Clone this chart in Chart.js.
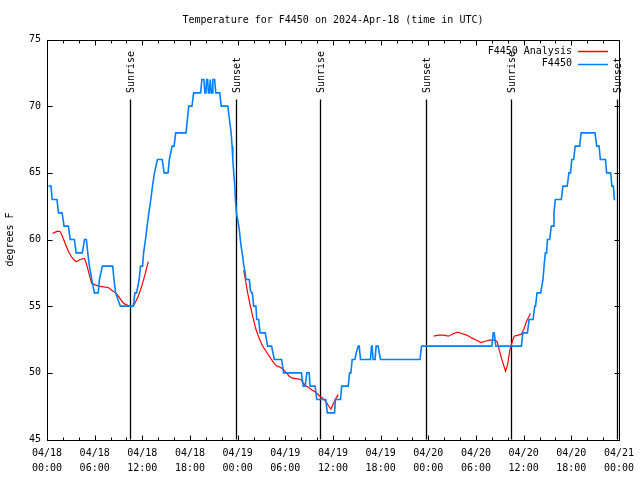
<!DOCTYPE html>
<html>
<head>
<meta charset="utf-8">
<script src="https://cdn.jsdelivr.net/npm/chart.js@4.4.1/dist/chart.umd.min.js"></script>
<style>
  html, body { margin: 0; padding: 0; background: #fff; }
  canvas { display: block; }
</style>
</head>
<body>
<canvas id="c" width="640" height="480"></canvas>
<script>
// ---------------- data ----------------
const chartTitle = 'Temperature for F4450 on 2024-Apr-18 (time in UTC)';
const yAxisTitle = 'degrees F';
const seriesNames = ['F4450 Analysis', 'F4450'];

// x tick labels (every 6 hours from 04/18 00:00 UTC)
const xTickDates = ['04/18','04/18','04/18','04/18','04/19','04/19','04/19','04/19','04/20','04/20','04/20','04/20','04/21'];
const xTickTimes = ['00:00','06:00','12:00','18:00','00:00','06:00','12:00','18:00','00:00','06:00','12:00','18:00','00:00'];
const yTicks = [45, 50, 55, 60, 65, 70, 75];

// sunrise / sunset markers (hours after 04/18 00:00 UTC)
const eventLabels = ['Sunrise','Sunset','Sunrise','Sunset','Sunrise','Sunset'];
const eventHours  = [10.5, 23.76, 34.42, 47.7, 58.47, 71.75];

// observed temperature F4450 (hours, degF)
const obsHours = [0.2,0.5,0.65,1.25,1.45,1.9,2.15,2.7,2.92,3.45,3.67,4.45,4.72,4.96,5.13,5.34,5.63,5.97,6.45,6.6,6.97,8.27,8.43,8.64,9.23,10.86,11.07,11.28,11.6,11.78,12.03,12.16,12.4,12.6,12.82,13.07,13.28,13.53,13.9,14.5,14.74,15.24,15.4,15.75,16.0,16.2,17.5,17.67,17.85,18.25,18.46,19.34,19.5,19.75,19.88,20.0,20.1,20.22,20.32,20.45,20.55,20.62,20.7,20.78,20.88,21.1,21.25,21.75,21.93,22.76,22.97,23.18,23.3,23.39,23.51,23.64,23.72,23.85,24.01,24.14,24.26,24.39,24.51,24.64,24.76,24.89,25.06,25.47,25.6,25.77,25.85,26.02,26.3,26.4,26.64,26.82,27.48,27.77,28.27,28.61,29.53,29.78,32.03,32.25,32.5,32.7,33.0,33.12,33.75,33.96,35.09,35.29,36.2,36.3,36.95,37.1,37.92,38.09,38.25,38.42,38.76,38.93,39.17,39.3,39.47,40.72,40.85,40.93,41.05,41.3,41.43,41.68,41.98,46.95,47.15,56.0,56.18,56.3,56.5,59.72,59.9,60.48,60.69,61.19,61.4,61.5,61.69,62.15,62.44,62.57,62.74,62.9,62.99,63.28,63.48,63.7,63.82,63.99,64.74,64.95,65.49,65.7,65.9,66.07,66.3,66.49,67.05,67.24,68.99,69.2,69.5,69.66,70.3,70.45,70.95,71.12,71.3,71.42,71.54];
const obsTemps = [64,64,63,63,62,62,61,61,60,60,59,59,60,60,59,58,57,56,56,57,58,58,57,56,55,55,56,56,57,58,58,59,60,61,62,63,64,65,66,66,65,65,66,67,67,68,68,69,70,70,71,71,72,72,71,71,72,72,71,71,72,72,71,71,72,72,71,71,70,70,69,68,67,66,65,64,63,62,61.45,61,60.45,59.7,59.2,58.7,58.1,57.7,57,57,56.2,56,56,55,55,54,54,53,53,52,52,51,51,50,50,49,49,50,50,49,49,48,48,47,47,48,48,49,49,50,50,51,51,51.5,52,52,51,51,52,52,51,51,52,52,51,51,52,52,53,53,52,52,53,53,54,54,55,55,56,56,57,58,59,59,60,60,61,61,62,63,63,64,64,65,65,66,66,67,67,68,68,67,67,66,66,65,65,64,64,63,63];

// analysis F4450 Analysis (hours, degF); null separates segments
const anaHours = [0.7,1.04,1.37,1.67,1.96,2.29,2.71,3.13,3.67,4.17,4.72,5.01,5.34,5.63,5.93,6.47,7.09,7.72,8.14,8.64,9.06,9.48,9.81,10.23,10.56,10.86,11.15,11.48,11.9,12.32,12.74,
  18.0,
  24.76,24.97,25.26,25.56,25.89,26.31,26.73,27.15,27.57,27.98,28.4,28.82,29.24,29.65,30.07,30.49,30.9,31.53,31.96,32.24,32.58,33.0,33.41,33.83,34.25,34.66,35.09,35.41,35.75,36.0,36.34,36.67,
  42.0,
  48.66,49.29,49.91,50.54,51.17,51.71,52.21,52.84,53.46,54.09,54.64,55.14,55.77,56.39,56.68,56.93,57.22,57.52,57.72,57.97,58.27,58.56,58.81,59.31,59.72,60.06,60.35,60.69,60.85];
const anaTemps = [60.45,60.55,60.63,60.58,60.2,59.7,59.08,58.65,58.33,58.5,58.58,58.08,57.33,56.7,56.63,56.5,56.45,56.4,56.2,56.0,55.7,55.33,55.15,55.05,54.95,55.0,55.33,55.75,56.45,57.33,58.33,
  null,
  57.7,57.0,56.0,55.12,54.25,53.25,52.55,52.0,51.62,51.25,50.87,50.55,50.45,50.3,50.05,49.75,49.6,49.55,49.5,49.25,49.05,48.87,48.7,48.55,48.3,48.12,47.87,47.55,47.28,47.62,48.05,48.37,
  null,
  52.75,52.83,52.83,52.75,52.95,53.05,52.95,52.83,52.62,52.45,52.27,52.37,52.45,52.45,52.33,51.7,51.08,50.5,50.12,50.58,51.7,52.33,52.75,52.83,52.9,53.33,53.83,54.25,54.45];

// ---------------- styling ----------------
const FONT = 'DejaVu Sans Mono';
const RED = '#ff0000';
const BLUE = '#0080ff';

const toXY = (xs, ys) => xs.map((x, i) => ({ x: x, y: ys[i] }));

const deco = {
  id: 'deco',
  beforeDatasetsDraw(chart) {
    const { ctx, chartArea: a, scales: { x } } = chart;
    ctx.save();
    ctx.strokeStyle = '#000';
    ctx.lineWidth = 1.3;
    eventHours.forEach((h) => {
      const px = Math.round(x.getPixelForValue(h)) + 0.5;
      ctx.beginPath();
      ctx.moveTo(px, a.top + 60);
      ctx.lineTo(px, a.bottom);
      ctx.stroke();
    });
    ctx.restore();
  },
  afterDraw(chart) {
    const { ctx, chartArea: a, scales: { x, y } } = chart;
    ctx.save();
    // event labels
    ctx.fillStyle = '#000';
    ctx.font = '10px "' + FONT + '"';
    eventHours.forEach((h, i) => {
      const px = Math.round(x.getPixelForValue(h)) + 1;
      ctx.save();
      ctx.translate(px, a.top + 53.5);
      ctx.rotate(-Math.PI / 2);
      ctx.textAlign = 'left';
      ctx.textBaseline = 'middle';
      ctx.fillText(eventLabels[i], 0, 0);
      ctx.restore();
    });
    // frame
    ctx.strokeStyle = '#000';
    ctx.lineWidth = 1;
    const L = Math.round(a.left) + 0.5, R = Math.round(a.right) + 0.5;
    const T = Math.round(a.top) + 0.5, B = Math.round(a.bottom) + 0.5;
    ctx.strokeRect(L, T, R - L, B - T);
    // x ticks every 2 hours
    ctx.beginPath();
    for (let h = 0; h <= 72; h += 2) {
      const px = Math.round(x.getPixelForValue(h)) + 0.5;
      const len = (h % 6 === 0) ? 5 : 3;
      ctx.moveTo(px, B); ctx.lineTo(px, B - len);
      ctx.moveTo(px, T); ctx.lineTo(px, T + len);
    }
    // y ticks
    yTicks.forEach((v) => {
      const py = Math.round(y.getPixelForValue(v)) + 0.5;
      ctx.moveTo(L, py); ctx.lineTo(L + 5, py);
      ctx.moveTo(R, py); ctx.lineTo(R - 5, py);
    });
    ctx.stroke();
    // legend (top-right, inside plot)
    ctx.textAlign = 'right';
    ctx.textBaseline = 'middle';
    chart.data.datasets.forEach((ds, i) => {
      const ty = a.top + 11.5 + i * 12.5;
      ctx.fillStyle = '#000';
      ctx.fillText(ds.label, a.right - 47, ty);
      ctx.strokeStyle = ds.borderColor;
      ctx.lineWidth = 1.5;
      ctx.beginPath();
      ctx.moveTo(a.right - 41, Math.round(ty) + 0.5);
      ctx.lineTo(a.right - 11, Math.round(ty) + 0.5);
      ctx.stroke();
    });
    ctx.restore();
  }
};

new Chart(document.getElementById('c'), {
  type: 'line',
  data: {
    datasets: [
      {
        label: seriesNames[0],
        data: toXY(anaHours, anaTemps),
        borderColor: RED,
        borderWidth: 1.2,
        pointRadius: 0,
        tension: 0,
        spanGaps: false,
        order: 1
      },
      {
        label: seriesNames[1],
        data: toXY(obsHours, obsTemps),
        borderColor: BLUE,
        borderWidth: 1.6,
        pointRadius: 0,
        tension: 0,
        order: 0
      }
    ]
  },
  options: {
    responsive: false,
    animation: false,
    devicePixelRatio: 1,
    layout: { padding: { left: 0, right: 18.5, top: 0, bottom: 0 } },
    plugins: {
      title: {
        display: true,
        fullSize: false,
        text: chartTitle,
        color: '#000',
        font: { family: FONT, size: 10, weight: 'normal', lineHeight: 1.2 },
        padding: { top: 14, bottom: 13.5 }
      },
      legend: { display: false },
      tooltip: { enabled: false }
    },
    scales: {
      x: {
        type: 'linear',
        min: 0,
        max: 72,
        grid: { display: false, drawTicks: false },
        border: { display: false },
        ticks: {
          stepSize: 6,
          autoSkip: false,
          maxRotation: 0,
          minRotation: 0,
          padding: 6,
          color: '#000',
          font: { family: FONT, size: 10, lineHeight: 1.5 },
          callback: (v) => {
            const i = Math.round(v / 6);
            return [xTickDates[i], xTickTimes[i]];
          }
        },
        afterFit: (s) => { s.height = 40.5; }
      },
      y: {
        type: 'linear',
        min: 45,
        max: 75,
        grid: { display: false, drawTicks: false },
        border: { display: false },
        ticks: {
          stepSize: 5,
          padding: 6,
          color: '#000',
          font: { family: FONT, size: 10 }
        },
        title: {
          display: true,
          text: yAxisTitle,
          color: '#000',
          font: { family: FONT, size: 10, lineHeight: 1.2 },
          padding: { top: 4, bottom: 0 }
        },
        afterFit: (s) => { s.width = 47; }
      }
    }
  },
  plugins: [deco]
});
</script>
</body>
</html>
